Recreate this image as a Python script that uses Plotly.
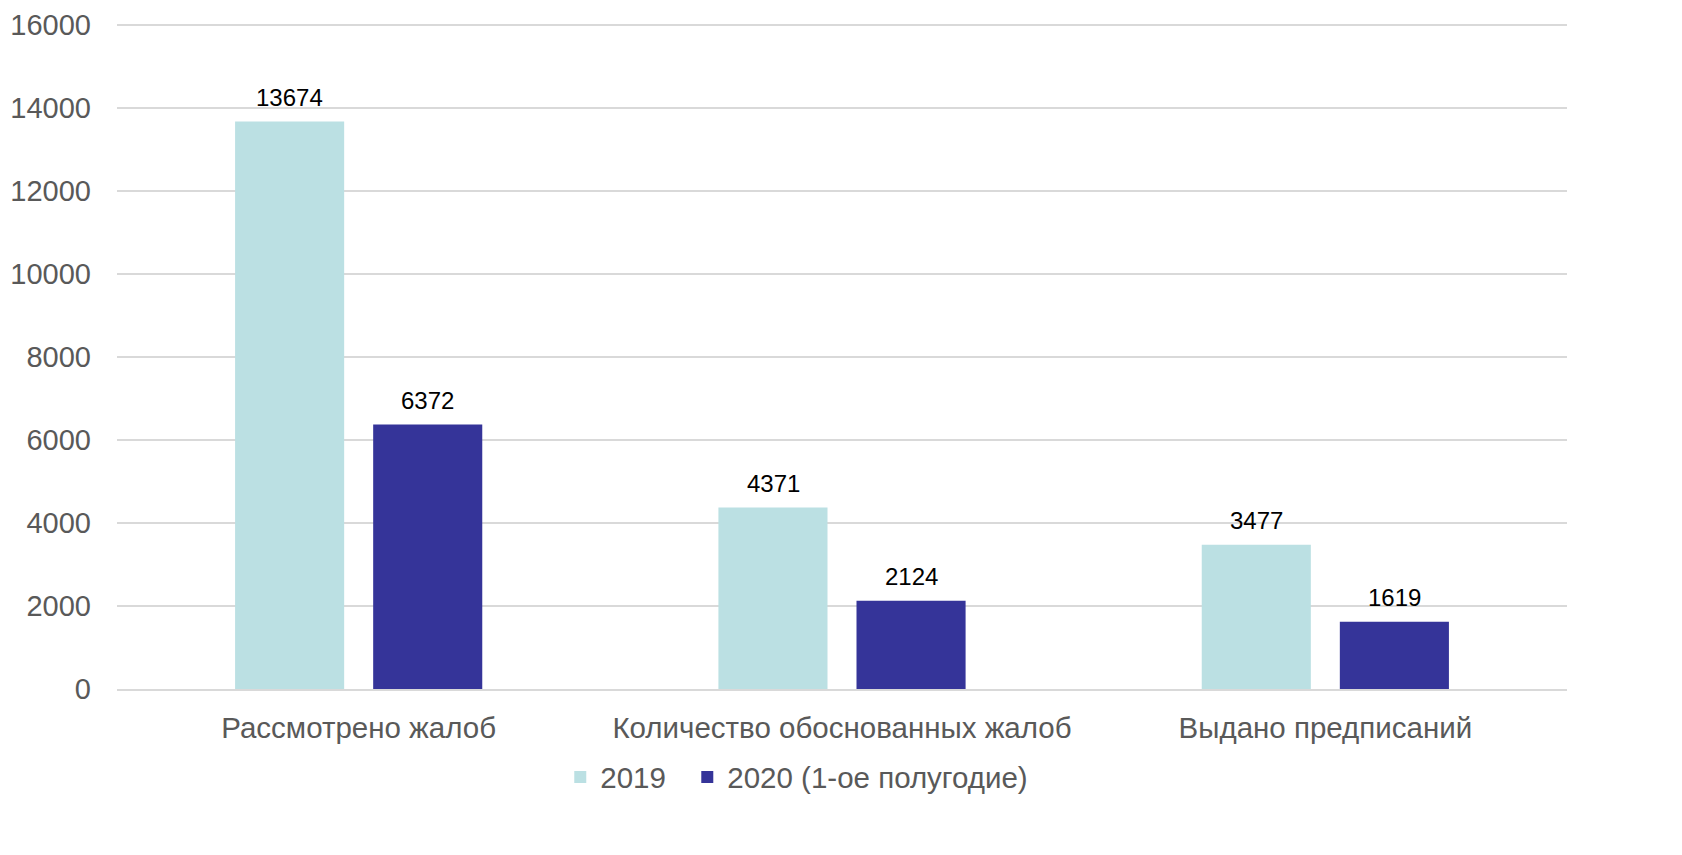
import plotly.graph_objects as go

categories = ["Рассмотрено жалоб", "Количество обоснованных жалоб", "Выдано предписаний"]
series_names = ["2019", "2020 (1-ое полугодие)"]
values_2019 = [13674, 4371, 3477]
values_2020 = [6372, 2124, 1619]
y_ticks = [0, 2000, 4000, 6000, 8000, 10000, 12000, 14000, 16000]

colors = ["#BBE0E3", "#353499"]
FONT = "Liberation Sans, Arial, sans-serif"

fig = go.Figure()
for name, vals, col, lg in zip(series_names, [values_2019, values_2020], colors, ["legend", "legend2"]):
    fig.add_trace(go.Bar(
        x=categories, y=vals, name=name, legend=lg,
        marker=dict(color=col, line=dict(width=0)),
        hoverinfo="x+y+name",
    ))

# data labels above each bar
for vals, shift in zip([values_2019, values_2020], [-69, 69]):
    for c, v in zip(categories, vals):
        fig.add_annotation(x=c, y=v, text=str(v), showarrow=False,
                           xshift=shift, yshift=9, yanchor="bottom",
                           font=dict(family=FONT, size=24, color="#000000"))

legend_common = dict(orientation="h", xanchor="left", y=-0.1325, yanchor="middle",
                     font=dict(family=FONT, size=29.5, color="#595959"),
                     itemwidth=30, bgcolor="rgba(0,0,0,0)")

fig.update_layout(
    width=1674, height=847,
    margin=dict(l=109, r=115, t=15, b=166, autoexpand=False),
    paper_bgcolor="white", plot_bgcolor="white",
    barmode="group", bargap=0.4286, bargroupgap=0.21,
    font=dict(family=FONT, color="#595959"),
    showlegend=True,
    legend=dict(x=0.3057, **legend_common),
    legend2=dict(x=0.3933, **legend_common),
    xaxis=dict(showgrid=False, showline=True, linecolor="#D9D9D9", linewidth=1.5,
               tickfont=dict(family=FONT, size=29.5, color="#595959"),
               ticks="", ticklabelstandoff=12),
    yaxis=dict(range=[0, 16048], tickvals=y_ticks, tickformat="d",
               showgrid=True, gridcolor="#D9D9D9", gridwidth=1.5,
               zeroline=False, showline=False,
               tickfont=dict(family=FONT, size=29, color="#595959"),
               ticks="", ticklabelstandoff=25),
)

fig.write_html("out.html")
